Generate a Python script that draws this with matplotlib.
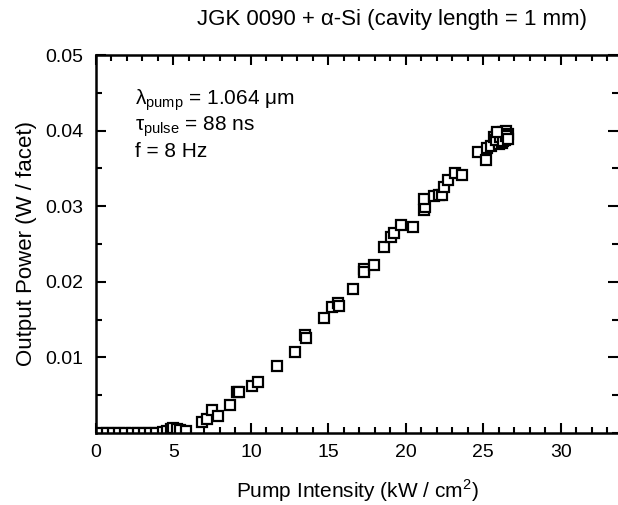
import matplotlib.pyplot as plt
from matplotlib.ticker import MultipleLocator

plt.rcParams['font.family'] = ['Liberation Sans', 'DejaVu Sans']
plt.rcParams['mathtext.fontset'] = 'custom'
plt.rcParams['mathtext.rm'] = 'Liberation Sans'

# данные
intensity = [0.3, 0.7, 1.1, 1.5, 1.9, 2.3, 2.7, 3.1, 3.5, 3.9, 4.3, 4.6,
             4.85, 5.0, 5.2, 5.4, 5.8,
             6.83, 7.16, 7.52, 7.87, 8.62, 9.09, 9.24, 10.06, 10.43,
             11.68, 12.84, 13.5, 13.57, 14.74, 15.24, 15.6, 15.7, 16.57,
             17.28, 17.32, 17.97, 18.62, 19.05, 19.22, 19.7, 20.45,
             21.16, 21.27, 21.16, 21.8, 22.13, 22.35, 22.45, 22.73, 23.2, 23.6,
             24.65, 25.2, 25.25, 25.5, 25.7, 25.9, 26.0, 26.1, 26.2, 26.3,
             26.4, 26.5, 26.6, 26.0, 26.2, 26.4, 25.8, 26.1, 26.3, 26.5,
             25.9, 26.6]
power = [0.00005, 0.00005, 0.00005, 0.00005, 0.00005, 0.00005, 0.00005,
         0.00005, 0.00005, 0.00005, 0.0001, 0.0002,
         0.0005, 0.0006, 0.0005, 0.0004, 0.0002,
         0.0015, 0.00185, 0.0030, 0.0022, 0.0037, 0.0054, 0.0054, 0.0062,
         0.0067, 0.0088, 0.0107, 0.0130, 0.0126, 0.0152, 0.0167, 0.0172,
         0.0168, 0.0190, 0.0217, 0.0213, 0.0222, 0.0246, 0.0259, 0.0264,
         0.0275, 0.0272, 0.0295, 0.0299, 0.0309, 0.0313, 0.0315, 0.0315,
         0.0326, 0.0335, 0.0344, 0.0341,
         0.0372, 0.0361, 0.0377, 0.0380, 0.0392, 0.0394, 0.0385, 0.0396,
         0.0390, 0.0398, 0.0392, 0.0400, 0.0395, 0.0382, 0.0384, 0.0388,
         0.0387, 0.0391, 0.0386, 0.0393, 0.0398, 0.0389]

x_ticks = [0, 5, 10, 15, 20, 25, 30]
y_ticks = [0.01, 0.02, 0.03, 0.04, 0.05]

fig = plt.figure(figsize=(6.18, 5.05), dpi=100)
ax = fig.add_axes([96 / 618, 72 / 505, 522 / 618, 378 / 505])

ax.plot(intensity, power, 's', markersize=6.5, markerfacecolor='white',
        markeredgecolor='black', markeredgewidth=1.6, linestyle='none')

ax.set_xlim(0, 33.7)
ax.set_ylim(0, 0.05)
ax.set_xticks(x_ticks)
ax.set_yticks(y_ticks)
ax.set_xticklabels([str(t) for t in x_ticks])
ax.set_yticklabels([f'{t:.2f}' for t in y_ticks])
ax.xaxis.set_minor_locator(MultipleLocator(1))
ax.yaxis.set_minor_locator(MultipleLocator(0.005))
ax.tick_params(which='both', direction='in', top=True, right=True,
               width=1.5, labelsize=14)
ax.tick_params(which='major', length=7)
ax.tick_params(which='minor', length=4)
ax.tick_params(axis='y', pad=9)
ax.tick_params(axis='x', pad=8)
for s in ax.spines.values():
    s.set_linewidth(1.8)
ax.spines['right'].set_visible(False)

ax.set_xlabel('Pump Intensity (kW / cm$^2$)', fontsize=15, labelpad=12)
ax.set_ylabel('Output Power (W / facet)', fontsize=16, labelpad=6)
fig.text(0.635, 1 - 20 / 505, 'JGK 0090 + α-Si (cavity length = 1 mm)',
         fontsize=16, ha='center', va='center')

ax.text(0.075, 0.88, 'λ$_{\\mathrm{pump}}$ = 1.064 μm', transform=ax.transAxes,
        fontsize=15, va='center')
ax.text(0.075, 0.81, 'τ$_{\\mathrm{pulse}}$ = 88 ns', transform=ax.transAxes,
        fontsize=15, va='center')
ax.text(0.075, 0.745, 'f = 8 Hz', transform=ax.transAxes,
        fontsize=15, va='center')

plt.savefig('out.png', dpi=100)
